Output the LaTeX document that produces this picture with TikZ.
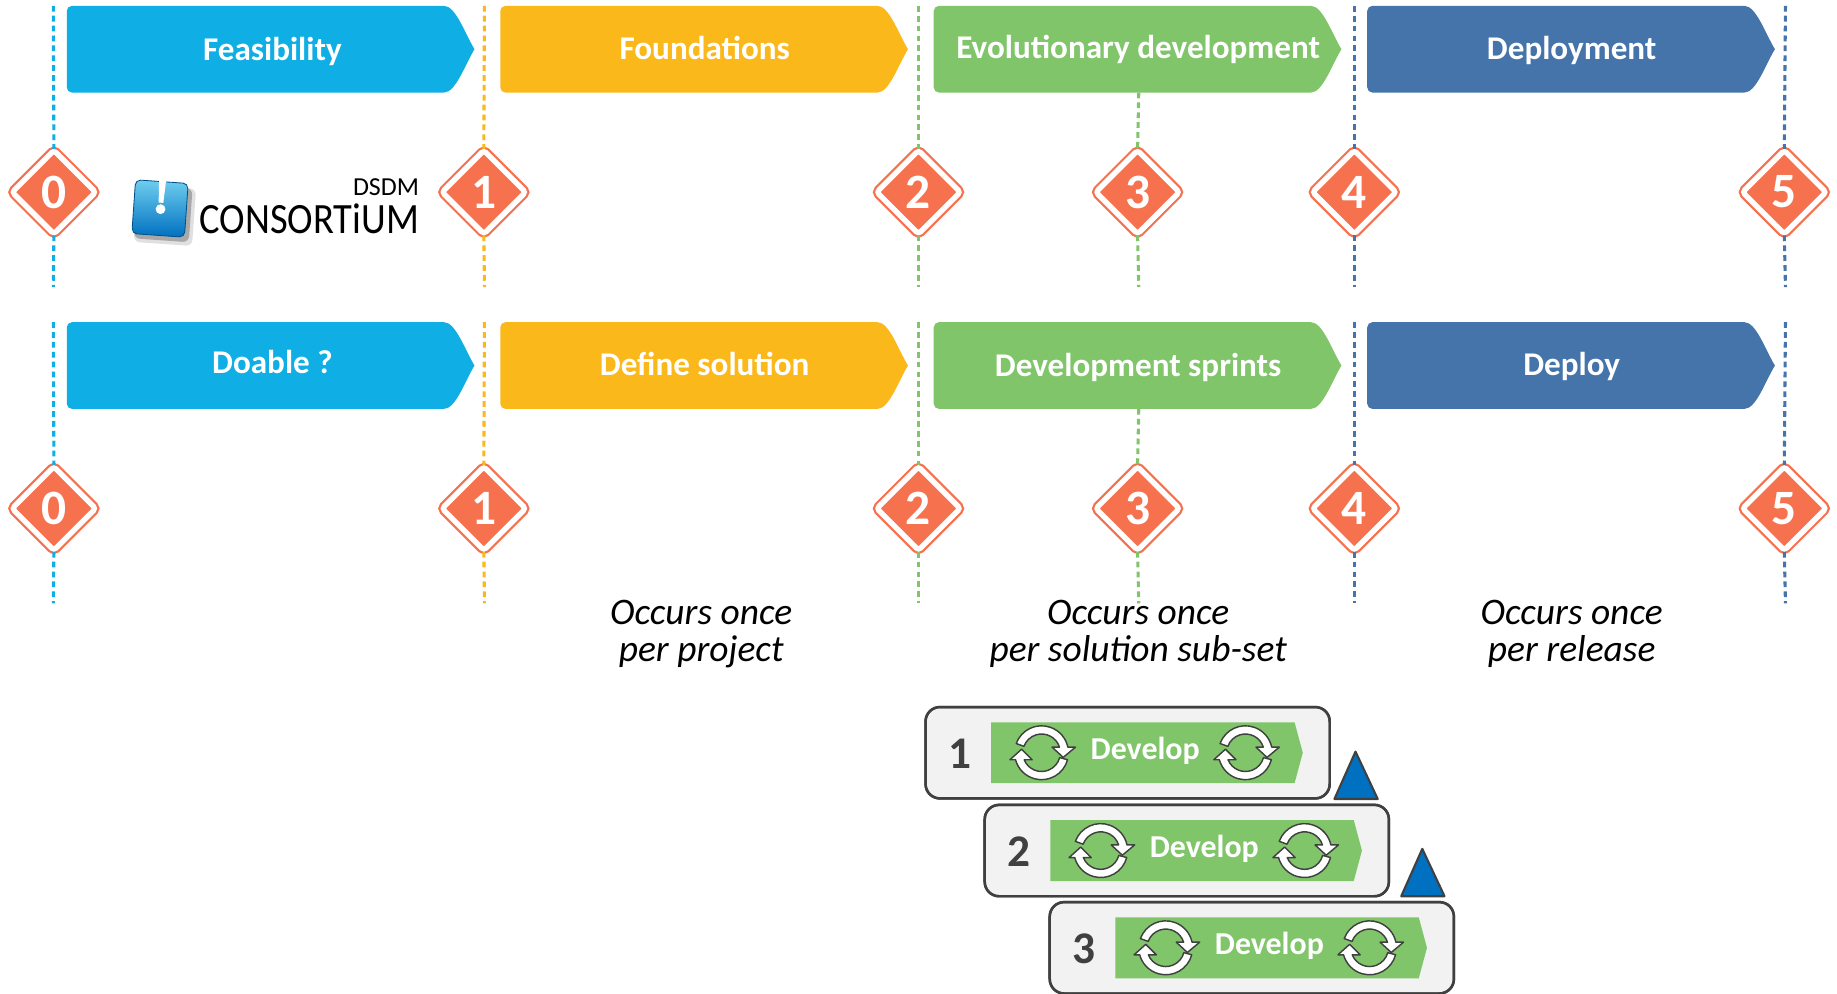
\documentclass[tikz,border=0pt]{standalone}
\usepackage{fontspec}
\setmainfont{Carlito}
\usetikzlibrary{calc, shapes.geometric}

\definecolor{feasBlue}{HTML}{0FAEE5}
\definecolor{foundYellow}{HTML}{FBB81A}
\definecolor{evoGreen}{HTML}{80C56A}
\definecolor{deployBlue}{HTML}{4474A9}
\definecolor{gateOrange}{HTML}{F6724F}
\definecolor{sprintEdge}{HTML}{404040}
\definecolor{sprintFill}{HTML}{F2F2F2}
\definecolor{triBlue}{HTML}{0070C0}

\tikzset{
	phaseLabel/.style = {anchor = base, text = white, font = \fontsize{16.1}{20}\selectfont\bfseries},
	gate/.style = {diamond, aspect = 1, inner sep = 0pt, minimum size = 41pt, rounded corners = 1.5pt,
		fill = gateOrange, draw = gateOrange, line width = 1.1pt, double = white, double distance = 2.6pt,
		text = white, font = \fontsize{24}{26}\selectfont\bfseries},
	gateLine/.style = {line width = 1.5pt, dash pattern = on 2.8pt off 2pt},
	onceLabel/.style = {align = center, font = \fontsize{18.2}{17.8}\selectfont\itshape},
	sprintBox/.style = {draw = sprintEdge, fill = sprintFill, line width = 1.2pt, rounded corners = 7pt},
	sprintNum/.style = {text = sprintEdge, font = \fontsize{22}{24}\selectfont\bfseries},
	developLabel/.style = {text = white, font = \fontsize{15.5}{18}\selectfont\bfseries},
	tri/.style = {draw = sprintEdge, fill = triBlue, line width = 1pt, line join = round},
	loopArrow/.style = {draw = sprintEdge, fill = white, line width = 0.7pt, line join = round},
	pics/loopIcon/.style = {code = {
		\begin{scope}[x = 0.02cm, y = 0.02cm]
			\filldraw [loopArrow] (160:23) arc [start angle = 160, end angle = 12, radius = 23*0.569pt]
				-- (29,4.8) -- (18.5,-4) -- (9,4.8) -- (15.3,4.8) arc [start angle = 17.5, end angle = 160, radius = 16*0.569pt] -- cycle;
			\filldraw [loopArrow] (-15:23) arc [start angle = -15, end angle = -165, radius = 23*0.569pt]
				-- (-27,-6) -- (-17,3) -- (-8,-6) -- (-14.8,-6) arc [start angle = -158, end angle = -15, radius = 16*0.569pt] -- cycle;
		\end{scope}
	}}
}

% x, y of the top left corner, colour
\newcommand{\phaseShape}[3]{
	\fill [#3, rounded corners = 2.5pt] (#1+30,#2) -- (#1,#2) -- (#1,#2+74) -- (#1+30,#2+74) [sharp corners]
		-- (#1+322,#2+74) .. controls (#1+332,#2+74) and (#1+340,#2+50) .. (#1+348,#2+37)
		.. controls (#1+340,#2+24) and (#1+332,#2) .. (#1+322,#2) -- cycle;
}

% name, x, y of the top left corner, number
\newcommand{\sprintRow}[4]{
	\fill [sprintBox] (#2,#3) rectangle (#2+345,#3+78);
	\fill [evoGreen] (#2+56,#3+13) -- (#2+315,#3+13) -- (#2+322,#3+39) -- (#2+315,#3+65) -- (#2+56,#3+65) -- cycle;
	\draw [sprintBox, fill = none] (#2,#3) rectangle (#2+345,#3+78);
	\node [sprintNum] (num#1) at (#2+29,#3+40) {#4};
	\node [developLabel] (dev#1) at (#2+187.5,#3+37.5) {Develop};
	\pic at (#2+99,#3+39) {loopIcon};
	\pic at (#2+273,#3+39) {loopIcon};
}

\begin{document}
\begin{tikzpicture}[x = 0.02cm, y = -0.02cm]
		\useasboundingbox (0,0) rectangle (1568,848.4);

		\def\rowA{5};
		\def\rowB{275};

		% phases
		\foreach \y in {\rowA, \rowB} {
			\phaseShape{57}{\y}{feasBlue}
			\phaseShape{427}{\y}{foundYellow}
			\phaseShape{797}{\y}{evoGreen}
			\phaseShape{1167}{\y}{deployBlue}
		}

		\node [phaseLabel] (feasibility) at (232.5,52) {Feasibility};
		\node [phaseLabel] (foundations) at (601.5,51) {Foundations};
		\node [phaseLabel] (evolutionary) at (971.5,50) {Evolutionary development};
		\node [phaseLabel] (deployment) at (1341.5,51) {Deployment};
		\node [phaseLabel] (doable) at (232.5,319) {Doable ?};
		\node [phaseLabel] (define) at (601.5,320.5) {Define solution};
		\node [phaseLabel] (sprints) at (971.5,321) {Development sprints};
		\node [phaseLabel] (deploy) at (1341.5,320.5) {Deploy};

		% gates and their lines
		\foreach \n/\x/\lineX/\c in {0/46/45.5/feasBlue, 1/413/413.5/foundYellow, 2/784/784/evoGreen, 4/1156/1156/deployBlue, 5/1523/1524/deployBlue} {
			\node [gate] (gateA\n) at (\x,164) {\n};
			\node [gate] (gateB\n) at (\x,434) {\n};
			\coordinate (topA\n) at (\lineX,5);
			\coordinate (endA\n) at (\lineX,245);
			\coordinate (topB\n) at (\lineX,275);
			\coordinate (endB\n) at (\lineX,515);
			\draw [gateLine, \c] (topA\n) -- (gateA\n.north);
			\draw [gateLine, \c] (gateA\n.south) -- (endA\n);
			\draw [gateLine, \c] (topB\n) -- (gateB\n.north);
			\draw [gateLine, \c] (gateB\n.south) -- (endB\n);
		}

		\node [gate] (gateA3) at (971,164) {3};
		\node [gate] (gateB3) at (971,434) {3};
		\coordinate (endA3) at (972,245);
		\coordinate (endB3) at (972,515);
		\draw [gateLine, evoGreen] (972,79) -- (gateA3.north);
		\draw [gateLine, evoGreen] (gateA3.south) -- (endA3);
		\draw [gateLine, evoGreen] (972,349) -- (gateB3.north);
		\draw [gateLine, evoGreen] (gateB3.south) -- (endB3);

		% logo
		\begin{scope}[shift = {(137,179)}, rotate = -4]
			\fill [black, opacity = 0.12, rounded corners = 3pt] (-21,-20) rectangle (29,29);
			\fill [black, opacity = 0.25, rounded corners = 3pt] (-21,-20) rectangle (26,26);
			\shade [top color = feasBlue!60, bottom color = triBlue, rounded corners = 2.5pt, draw = triBlue!70!black] (-23,-24) rectangle (22,22);
			\fill [white] (-3,-25) -- (3,-25) -- (2,-6) -- (-2,-6) -- cycle;
			\fill [white] (0,-0.5) circle [radius = 2.4pt];
		\end{scope}
		\node [anchor = base east, inner sep = 0pt, font = \fontsize{12.6}{14}\selectfont] (dsdm) at (358,167) {DSDM};
		\node [anchor = base east, inner sep = 0pt, font = \fontsize{21}{22}\selectfont] (consortium) at (358,199.5) {\scalebox{0.89}[1]{CONSORTiUM}};

		% how often
		\node [onceLabel] (onceA) at (598.5,541) {Occurs once\\per project};
		\node [onceLabel] (onceB) at (971.5,541) {Occurs once\\per solution sub-set};
		\node [onceLabel] (onceC) at (1341.5,541) {Occurs once\\per release};

		% sprints
		\sprintRow{A}{790}{603.5}{1}
		\sprintRow{B}{840.5}{687}{2}
		\sprintRow{C}{896}{770}{3}

		\draw [tri] (1157,641.5) -- (1176,682) -- (1139,682) -- cycle;
		\draw [tri] (1214,724.5) -- (1233,765) -- (1196,765) -- cycle;
	\end{tikzpicture}
\end{document}
